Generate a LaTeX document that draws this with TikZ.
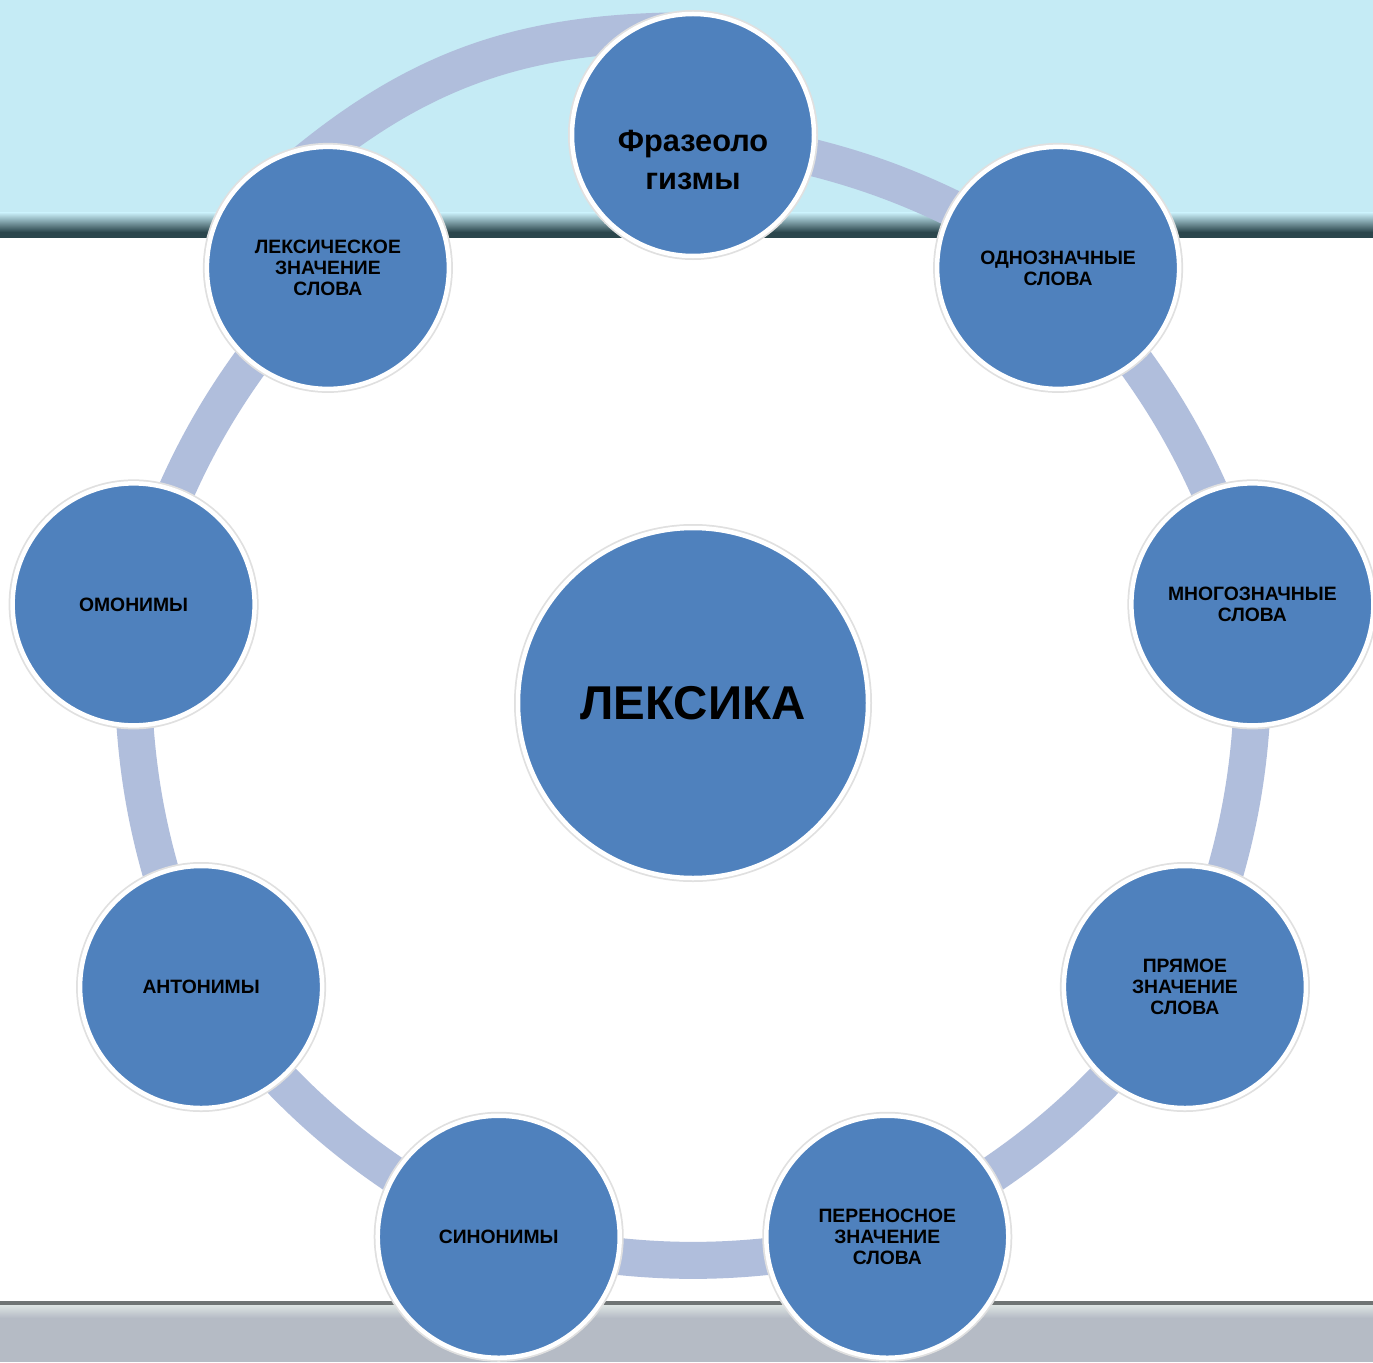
\documentclass[tikz,border=0pt]{standalone}
\usepackage{fontspec}
\setmainfont{Liberation Sans}
\usetikzlibrary{backgrounds}
\definecolor{nodeblue}{HTML}{4F81BD}
\definecolor{ringblue}{HTML}{B0BEDC}
\definecolor{skyblue}{HTML}{C5EBF5}
\definecolor{darkteal}{HTML}{2B464C}
\definecolor{stripegray}{HTML}{B5BBC5}
\definecolor{stripelight}{HTML}{DCE3E2}
\definecolor{stripedark}{HTML}{6F7474}

\begin{document}
\begin{tikzpicture}[
    bubble/.style={circle,fill=nodeblue,draw=white,line width=0.09cm,minimum size=4.84cm,inner sep=0pt,align=center,font=\bfseries\fontsize{11}{12}\selectfont,preaction={draw=black!12,line width=0.16cm}},
    ring/.style={draw=ringblue,line width=0.74cm}]
            \useasboundingbox (-13.86,-13.18) rectangle (13.60,14.06);

            \node[bubble,minimum size=7cm,font=\bfseries\fontsize{27}{32}\selectfont] (lex) at (0,0) {ЛЕКСИКА};

            \node[bubble,label={[font=\bfseries\fontsize{17.5}{21.6}\selectfont,align=center,yshift=-0.5cm]center:Фразеоло\\гизмы}] (fr) at (90:11.36) {};
            \node[bubble] (odn) at (50:11.36) {ОДНОЗНАЧНЫЕ\\СЛОВА};
            \node[bubble] (mnog) at (10:11.36) {МНОГОЗНАЧНЫЕ\\СЛОВА};
            \node[bubble] (pryam) at (-30:11.36) {ПРЯМОЕ\\ЗНАЧЕНИЕ\\СЛОВА};
            \node[bubble] (pern) at (-70:11.36) {ПЕРЕНОСНОЕ\\ЗНАЧЕНИЕ\\СЛОВА};
            \node[bubble] (syn) at (-110:11.36) {СИНОНИМЫ};
            \node[bubble] (ant) at (-150:11.36) {АНТОНИМЫ};
            \node[bubble] (om) at (170:11.36) {ОМОНИМЫ};
            \node[bubble] (leks) at (130:11.36) {ЛЕКСИЧЕСКОЕ\\ЗНАЧЕНИЕ\\СЛОВА};

            \coordinate (lekstop) at ([shift={(220:0.8)}]leks.north);
            \coordinate (frtop) at ([yshift=-0.4cm]fr.north);

            \begin{pgfonlayer}{background}
                \fill[white] (-13.86,-13.18) rectangle (13.60,14.06);
                \fill[skyblue] (-13.86,9.80) rectangle (13.60,14.06);
                \shade[top color=skyblue,bottom color=darkteal] (-13.86,9.42) rectangle (13.60,9.80);
                \fill[darkteal] (-13.86,9.30) rectangle (13.60,9.42);
                \fill[stripedark] (-13.86,-12.04) rectangle (13.60,-11.96);
                \shade[top color=stripelight,bottom color=stripegray] (-13.86,-12.30) rectangle (13.60,-12.04);
                \fill[stripegray] (-13.86,-13.18) rectangle (13.60,-12.30);

                \draw[ring] (fr.center) to[bend left=12] (odn.center);
                \draw[ring] (odn.center) to[bend left=12] (mnog.center);
                \draw[ring] (mnog.center) to[bend left=12] (pryam.center);
                \draw[ring] (pryam.center) to[bend left=12] (pern.center);
                \draw[ring] (pern.center) to[bend left=12] (syn.center);
                \draw[ring] (syn.center) to[bend left=12] (ant.center);
                \draw[ring] (ant.center) to[bend left=12] (om.center);
                \draw[ring] (om.center) to[bend left=12] (leks.center);
                \draw[ring,line width=0.78cm] (lekstop) to[out=40,in=180] (frtop);
            \end{pgfonlayer}
        \end{tikzpicture}
\end{document}
